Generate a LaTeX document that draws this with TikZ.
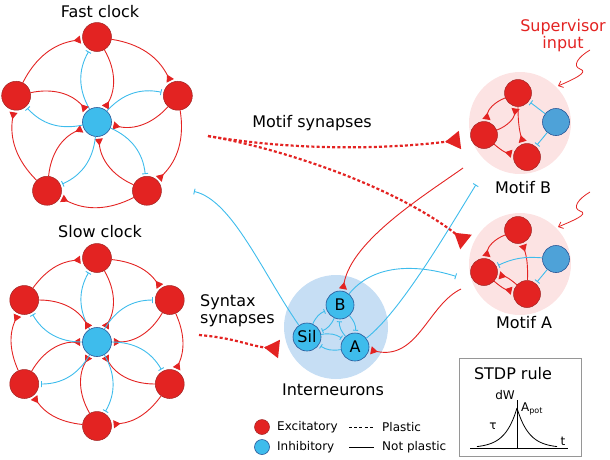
\documentclass[tikz,border=0pt]{standalone}
\usepackage{fontspec}
\setmainfont{DejaVu Sans}
\usetikzlibrary{arrows.meta}
\definecolor{exred}{RGB}{227,35,34}
\definecolor{exdark}{RGB}{160,35,35}
\definecolor{inhblue}{RGB}{62,188,236}
\definecolor{inhdark}{RGB}{40,85,150}
\definecolor{motblue}{RGB}{78,162,216}
\definecolor{motpink}{RGB}{252,227,227}
\definecolor{intblue}{RGB}{198,222,244}
\definecolor{boxgray}{RGB}{150,150,150}

\begin{document}
\begin{tikzpicture}[x=1pt,y=-1pt,
	excnode/.style={circle, fill=exred, draw=exdark, line width=0.5pt, minimum size=29pt, inner sep=0pt},
	inhnode/.style={circle, fill=inhblue, draw=inhdark, line width=0.6pt, minimum size=29pt, inner sep=0pt},
	motinh/.style={inhnode, fill=motblue},
	exline/.style={draw=exred, line width=0.9pt, -{Triangle[reversed,length=7pt,width=8pt]}, shorten >=2pt},
	inhline/.style={draw=inhblue, line width=0.9pt, -{Bar[width=6pt]}, shorten >=2pt},
	plastic/.style={draw=exred, line width=2.2pt, dash pattern=on 3pt off 2.2pt, -{Triangle[reversed,length=15pt,width=18pt]}},
	supline/.style={draw=exred, line width=0.8pt, -{Straight Barb[length=4pt,width=7pt]}},
	big/.style={font=\fontsize{16}{17}\selectfont},
	small/.style={font=\fontsize{12}{14}\selectfont, inner sep=1pt}]
		\useasboundingbox (0,0) rectangle (610,459);
		%\draw [help lines, step=50] (0,0) grid (610,459);
		%backgrounds
		\node[circle, fill=motpink, minimum size=102pt] (motB) at (520,123) {};
		\node[circle, fill=motpink, minimum size=102pt] (motA) at (520,264) {};
		\node[circle, fill=intblue, minimum size=104pt] (intpool) at (336,327) {};
		%fast clock
		\node[big] (fasttitle) at (100,12) {Fast clock};
		\begin{scope}[shift={(97,122)}]
			\node[inhnode] (fc) at (0,0) {};
			\foreach \a [count=\i] in {-90,-18,54,126,198}
				\node[excnode] (f\i) at (\a:85) {};
		\end{scope}
		\foreach \i/\j in {1/2,2/3,3/4,4/5,5/1}
			\draw[exline] (f\i) to[bend left=27] (f\j);
		\foreach \i in {1,...,5} {
			\draw[inhline] (fc) to[bend left=30] (f\i);
			\draw[exline] (f\i) to[bend left=30] (fc);
		}
		%slow clock
		\node[big] (slowtitle) at (100,232) {Slow clock};
		\begin{scope}[shift={(97,342)}]
			\node[inhnode] (sc) at (0,0) {};
			\foreach \a [count=\i] in {-90,-30,30,90,150,210}
				\node[excnode] (s\i) at (\a:84) {};
		\end{scope}
		\foreach \i/\j in {1/2,2/3,3/4,4/5,5/6,6/1}
			\draw[exline] (s\i) to[bend left=24] (s\j);
		\foreach \i in {1,...,6} {
			\draw[inhline] (sc) to[bend left=30] (s\i);
			\draw[exline] (s\i) to[bend left=30] (sc);
		}
		%motif B
		\node[excnode, minimum size=27pt] (bT) at (518,93) {};
		\node[excnode, minimum size=27pt] (bL) at (484,135) {};
		\node[excnode, minimum size=27pt] (bR) at (527,157) {};
		\node[motinh, minimum size=27pt] (bI) at (556,122) {};
		\draw[exline] (bT) to[bend right=30] (bL);
		\draw[exline] (bL) to[bend right=30] (bT);
		\draw[exline] (bT) to[bend right=8] (bR);
		\draw[exline] (bL) to[bend right=15] (bR);
		\draw[inhline] (bI) -- (bT);
		\draw[inhline] (bI) -- (bR);
		\node[big] (motBlbl) at (523,188) {Motif B};
		%motif A
		\node[excnode, minimum size=27pt] (aT) at (518,230) {};
		\node[excnode, minimum size=27pt] (aL) at (484,272) {};
		\node[excnode, minimum size=27pt] (aR) at (527,294) {};
		\node[motinh, minimum size=27pt] (aI) at (556,259) {};
		\draw[exline] (aT) to[bend right=30] (aL);
		\draw[exline] (aR) to[bend right=10] (aT);
		\draw[exline] (aL) to[bend right=15] (aR);
		\draw[exline] (aR) to[bend right=15] (aL);
		\draw[inhline] (aI) to[bend right=15] (aL);
		\draw[inhline] (aI) -- (aR);
		\node[big] (motAlbl) at (524,323) {Motif A};
		%supervisor input
		\node[big, text=exred, align=center] (sup) at (563,36) {Supervisor\\input};
		\coordinate (supB) at (590,50);
		\coordinate (supBend) at (558,86);
		\coordinate (supA) at (590,192);
		\coordinate (supAend) at (558,227);
		\draw[supline] (supB) .. controls (578,57) and (572,66) .. (580,69) .. controls (590,72) and (572,80) .. (supBend);
		\draw[supline] (supA) .. controls (578,199) and (572,208) .. (580,211) .. controls (590,214) and (572,221) .. (supAend);
		%interneurons
		\node[inhnode, big, minimum size=28pt] (intB) at (340,305) {B};
		\node[inhnode, big, minimum size=28pt] (intSil) at (307,337) {Sil};
		\node[inhnode, big, minimum size=28pt] (intA) at (355,347) {A};
		\foreach \p/\q in {intSil/intB, intB/intSil, intB/intA, intA/intB, intSil/intA, intA/intSil}
			\draw[inhline, -{Bar[width=5pt]}] (\p) to[bend left=22] (\q);
		\node[big] (intlbl) at (333,390) {Interneurons};
		%long connections
		\coordinate (fcinh) at (192,191);
		\coordinate (motAinh) at (458,277);
		\coordinate (motBinh) at (477,183);
		\coordinate (motBout) at (463,168);
		\coordinate (motAout) at (461,289);
		\draw[inhline] (intSil) .. controls (262,272) and (232,200) .. (fcinh);
		\draw[inhline] (intB) .. controls (375,262) and (420,265) .. (motAinh);
		\draw[inhline] (intA) .. controls (400,312) and (445,235) .. (motBinh);
		\draw[exline] (motBout) .. controls (425,195) and (352,240) .. (intB);
		\draw[exline] (motAout) .. controls (428,305) and (418,360) .. (intA);
		%plastic synapses
		\coordinate (motsrc) at (208,136);
		\coordinate (motBin) at (460,140);
		\coordinate (motAin) at (466,242);
		\draw[plastic] (motsrc) .. controls (290,150) and (380,150) .. (motBin);
		\draw[plastic] (motsrc) .. controls (290,150) and (400,190) .. (motAin);
		\node[big] (motiflbl) at (312,123) {Motif synapses};
		\coordinate (synsrc) at (199,335);
		\coordinate (synin) at (279,349);
		\draw[plastic] (synsrc) .. controls (235,338) and (250,346) .. (synin);
		\node[big, align=left, anchor=west, inner sep=1pt] (synlbl) at (199,311) {Syntax\\synapses};
		%legend
		\node[excnode, minimum size=15pt] (legex) at (262,427) {};
		\node[inhnode, minimum size=15pt] (leginh) at (262,447) {};
		\node[small, anchor=west] at (276,427) {Excitatory};
		\node[small, anchor=west] at (276,447) {Inhibitory};
		\draw[dash pattern=on 3pt off 2.2pt, line width=0.6pt] (349,427) -- (374,427);
		\draw[line width=0.7pt] (349,447) -- (374,447);
		\node[small, anchor=west] at (381,427) {Plastic};
		\node[small, anchor=west] at (381,447) {Not plastic};
		%STDP
		\draw[boxgray, line width=1pt] (459,358) rectangle (581,456);
		\node[big] (stdp) at (513,374) {STDP rule};
		\draw[line width=0.8pt] (517,400) -- (517,448);
		\draw[line width=0.8pt] (470,448) -- (568,448);
		\draw[line width=0.8pt] plot[domain=477:517, samples=30] (\x, {448-40*exp((\x-517)/12)});
		\draw[line width=0.8pt] plot[domain=517:557, samples=30] (\x, {448-40*exp(-(\x-517)/12)});
		\node[small] at (505,395) {dW};
		\node[small, anchor=west] at (520,409) {A\textsubscript{pot}};
		\node[small] at (493,426) {τ};
		\node[small] at (563,441) {t};
	\end{tikzpicture}
\end{document}
